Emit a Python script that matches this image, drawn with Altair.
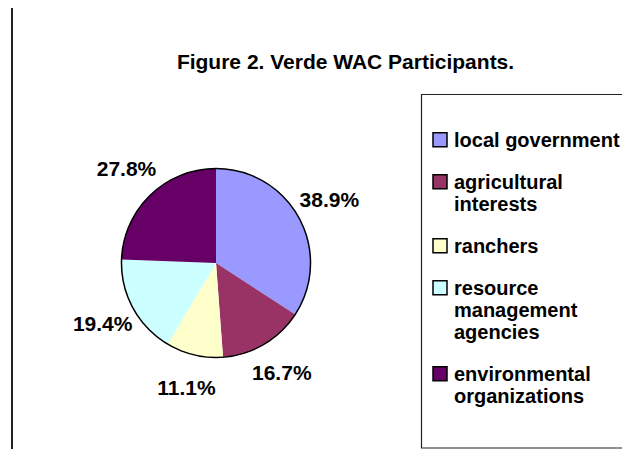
import altair as alt
import pandas as pd

# ---- data ----
categories = [
    "local government",
    "agricultural\ninterests",
    "ranchers",
    "resource\nmanagement\nagencies",
    "environmental\norganizations",
]
values = [38.9, 16.7, 11.1, 19.4, 27.8]
colors = ["#9999FF", "#993366", "#FFFFCC", "#CCFFFF", "#660066"]
title_text = "Figure 2. Verde WAC Participants."

FONT = "Liberation Sans, Arial, sans-serif"
CX, CY, R = 208, 255, 94.5

df = pd.DataFrame({"category": categories, "value": values, "order": list(range(len(values)))})

color = alt.Color(
    "category:N",
    scale=alt.Scale(domain=categories, range=colors),
    legend=alt.Legend(
        orient="none",
        legendX=422,
        legendY=113,
        title=None,
        padding=0,
        symbolType="M-1,0.24H1V2.24H-1Z",
        symbolSize=196,
        symbolStrokeColor="black",
        symbolStrokeWidth=1.5,
        symbolOpacity=1,
        labelFont=FONT,
        labelFontSize=20,
        labelFontWeight="bold",
        labelColor="black",
        labelBaseline="top",
        labelLimit=400,
        labelOffset=4,
        rowPadding=12,
        labelExpr="split(datum.label, '\\n')",
    ),
)

base = alt.Chart(df).encode(
    theta=alt.Theta("value:Q", stack=True),
    order=alt.Order("order:Q"),
)

# decorative frame elements
frame_df = pd.DataFrame({"k": [0]})
left_rule = alt.Chart(frame_df).mark_rule(color="#222222", strokeWidth=2).encode(
    x=alt.value(4), y=alt.value(0), y2=alt.value(441)
)
legend_box = alt.Chart(frame_df).mark_rect(fill="white", stroke="#222222", strokeWidth=1.2).encode(
    x=alt.value(413.5), x2=alt.value(700), y=alt.value(86.5), y2=alt.value(440)
)

pie = base.mark_arc(x=CX, y=CY, radius=R, stroke=None).encode(color=color, detail="category:N")

outline = alt.Chart(df).mark_arc(x=CX, y=CY, radius=R, fillOpacity=0, stroke="black", strokeWidth=1.5).encode(
    theta=alt.Theta("sum(value):Q")
)

labels = base.transform_calculate(
    label="format(datum.value, '.1f') + '%'"
).mark_text(
    x=CX, y=CY, radius=129, font=FONT, fontSize=21, fontWeight="bold", color="black",
    align="center", baseline="middle",
).encode(text="label:N", detail="category:N")

title = alt.Chart(pd.DataFrame({"t": [title_text]})).mark_text(
    font=FONT, fontSize=21, fontWeight="bold", color="black", align="center", baseline="alphabetic"
).encode(text="t:N", x=alt.value(337.5), y=alt.value(61))

chart = alt.layer(left_rule, legend_box, pie, outline, labels, title).properties(
    width=614,
    height=441,
    autosize=alt.AutoSizeParams(type="none"),
    padding=0,
    background="white",
).configure_view(stroke=None)

chart.save("out.html", embed_options={"renderer": "svg", "actions": False})
